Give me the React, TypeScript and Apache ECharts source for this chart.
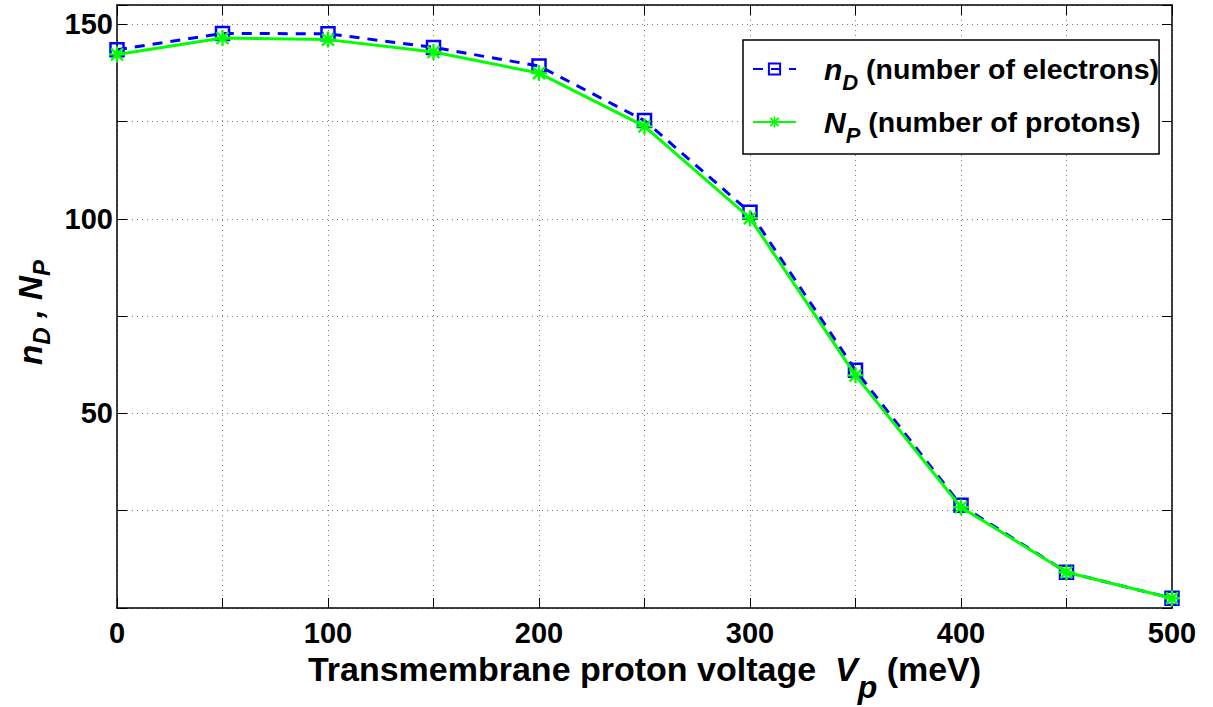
import React, { useEffect, useRef } from "react";
import * as echarts from "echarts";

const voltage = [0, 50, 100, 150, 200, 250, 300, 350, 400, 450, 500];
const electrons = [143.5, 147.7, 147.6, 144.1, 139.3, 125.3, 101.7, 61.1, 26.4, 9.2, 2.5];
const protons = [142.3, 146.5, 146.1, 142.9, 137.5, 123.8, 100.2, 59.8, 25.9, 9.2, 2.5];
const yLabels = [50, 100, 150];
const xLabels = [0, 100, 200, 300, 400, 500];

const FONT = '"Liberation Sans", Arial, Helvetica, sans-serif';
const STAR =
  "path://M8.5 0L11.5 0L11.5 20L8.5 20ZM0 8.5L20 8.5L20 11.5L0 11.5ZM1.5 3.6L3.6 1.5L18.5 16.4L16.4 18.5ZM16.4 1.5L18.5 3.6L3.6 18.5L1.5 16.4Z";

export default function App() {
  const ref = useRef<HTMLDivElement>(null);
  useEffect(() => {
    if (!ref.current) return;
    const chart = echarts.init(ref.current, null, { renderer: "svg" });
    const gridLine = { show: true, lineStyle: { color: "#7a7a7a", width: 1, type: [1, 4] as any } };
    const axisLine = { show: true, onZero: false, lineStyle: { color: "#000", width: 1.5 } };
    const tick = { show: true, inside: true, length: 10, lineStyle: { color: "#000", width: 1 } };
    chart.setOption({
      animation: false,
      backgroundColor: "#fff",
      textStyle: { fontFamily: FONT },
      grid: { left: 117, right: 41, top: 5, bottom: 99, containLabel: false, outerBoundsMode: "none" },
      legend: {
        orient: "vertical",
        left: 743,
        top: 40,
        padding: [14, 0, 8, 9],
        itemWidth: 43,
        itemHeight: 14,
        itemGap: 14,
        backgroundColor: "#fff",
        borderColor: "#000",
        borderWidth: 1.5,
        borderRadius: 0,
        data: ["nD", "NP"],
        formatter: (name: string) =>
          name === "nD"
            ? "{g|}{i|n}{s|D}{t| (number of electrons)}"
            : "{g|}{i|N}{s|P}{t| (number of protons)}",
        textStyle: {
          color: "#000",
          fontFamily: FONT,
          rich: {
            g: { width: 23 },
            i: { fontSize: 30, fontStyle: "italic", fontWeight: "bold", color: "#000", fontFamily: FONT },
            s: { fontSize: 22, fontStyle: "italic", fontWeight: "bold", color: "#000", fontFamily: FONT, padding: [26, 0, 0, 0] },
            t: { fontSize: 28.5, fontWeight: "bold", color: "#000", fontFamily: FONT },
          },
        },
      },
      xAxis: [
        {
          type: "value",
          min: 0,
          max: 500,
          interval: 50,
          position: "bottom",
          axisLine,
          axisTick: tick,
          splitLine: gridLine,
          axisLabel: {
            show: true,
            margin: 10,
            fontSize: 29,
            fontWeight: "bold",
            color: "#000",
            fontFamily: FONT,
            formatter: (v: number) => (xLabels.includes(v) ? String(v) : ""),
          },
          name: "{t|Transmembrane proton voltage  }{v|V}{s|p}{t| (meV)}",
          nameLocation: "middle",
          nameGap: 20,
          nameTextStyle: {
            color: "#000",
            rich: {
              t: { fontSize: 34, fontWeight: "bold", color: "#000", fontFamily: FONT },
              v: { fontSize: 34, fontWeight: "bold", fontStyle: "italic", color: "#000", fontFamily: FONT },
              s: { fontSize: 32, fontWeight: "bold", fontStyle: "italic", color: "#000", fontFamily: FONT, padding: [36, 0, 0, 0] },
            },
          },
        },
        {
          type: "value",
          min: 0,
          max: 500,
          interval: 50,
          position: "top",
          axisLine,
          axisTick: tick,
          splitLine: { show: false },
          axisLabel: { show: false },
        },
      ],
      yAxis: [
        {
          type: "value",
          min: 0,
          max: 155,
          interval: 25,
          position: "left",
          axisLine,
          axisTick: tick,
          splitLine: gridLine,
          axisLabel: {
            show: true,
            margin: 4,
            fontSize: 29,
            fontWeight: "bold",
            color: "#000",
            fontFamily: FONT,
            formatter: (v: number) => (yLabels.includes(v) ? String(v) : ""),
          },
          name: "{i|n}{s|D}{c| , }{i|N}{s|P}",
          nameLocation: "middle",
          nameGap: 51,
          nameTextStyle: {
            color: "#000",
            padding: [0, 12, 0, 0],
            rich: {
              i: { fontSize: 33, fontWeight: "bold", fontStyle: "italic", color: "#000", fontFamily: FONT },
              s: { fontSize: 24, fontWeight: "bold", fontStyle: "italic", color: "#000", fontFamily: FONT, padding: [22, 0, 0, 0] },
              c: { fontSize: 33, fontWeight: "bold", fontStyle: "italic", color: "#000", fontFamily: FONT },
            },
          },
        },
        {
          type: "value",
          min: 0,
          max: 155,
          interval: 25,
          position: "right",
          axisLine,
          axisTick: tick,
          splitLine: { show: false },
          axisLabel: { show: false },
        },
      ],
      series: [
        {
          name: "nD",
          type: "line",
          xAxisIndex: 0,
          yAxisIndex: 0,
          data: voltage.map((x, i) => [x, electrons[i]]),
          symbol: "rect",
          symbolSize: 13,
          showAllSymbol: true,
          color: "#0000ff",
          lineStyle: { color: "#0000ff", width: 3, type: [10, 8] as any },
          itemStyle: { color: "rgba(255,255,255,0)", borderColor: "#0000ff", borderWidth: 2.5 },
          z: 2,
        },
        {
          name: "NP",
          type: "line",
          xAxisIndex: 0,
          yAxisIndex: 0,
          data: voltage.map((x, i) => [x, protons[i]]),
          symbol: STAR,
          symbolSize: 16,
          showAllSymbol: true,
          color: "#00ff00",
          lineStyle: { color: "#00ff00", width: 3 },
          itemStyle: { color: "#00ff00", borderWidth: 0 },
          z: 3,
        },
      ],
    });
    return () => chart.dispose();
  }, []);
  return <div ref={ref} style={{ width: 1213, height: 707, position: "absolute", left: 0, top: 0 }} />;
}
